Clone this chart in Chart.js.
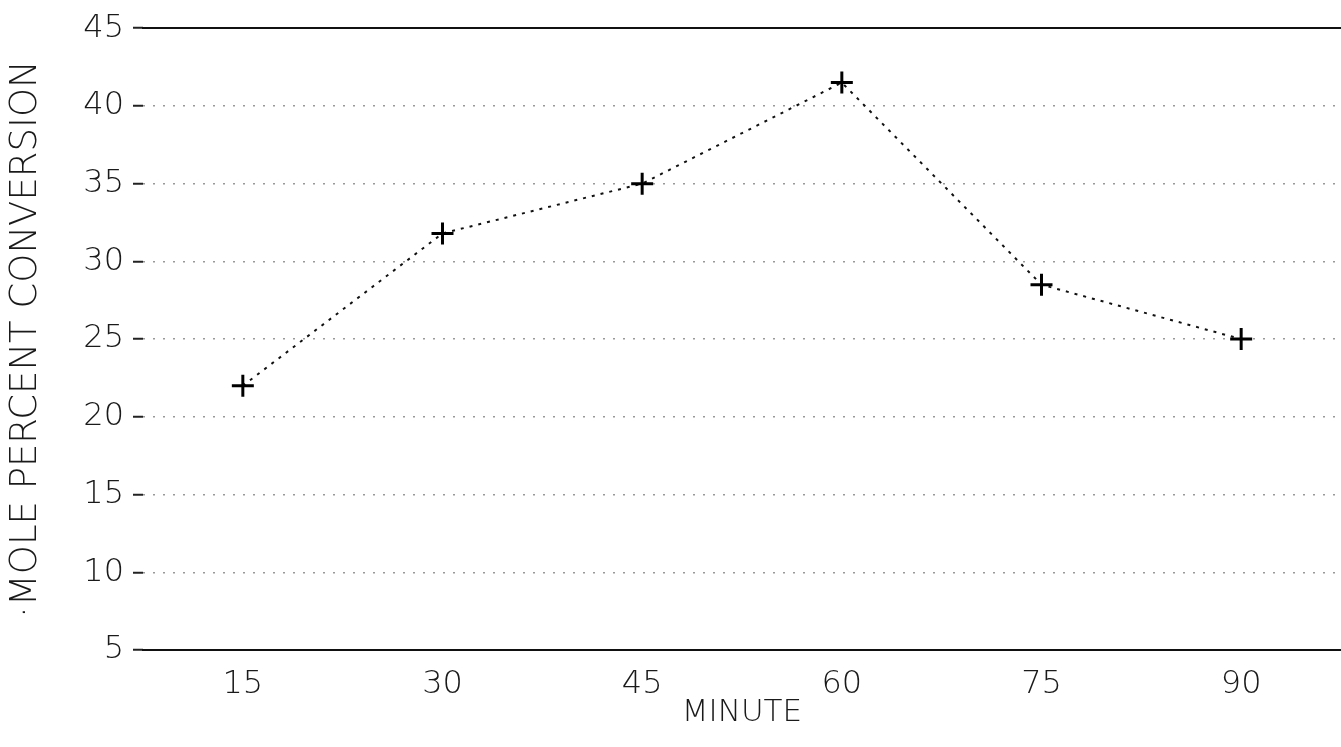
<!DOCTYPE html>
<html>
<head>
<meta charset="utf-8">
<script src="https://cdn.jsdelivr.net/npm/chart.js@4/dist/chart.umd.min.js"></script>
<style>
html,body{margin:0;padding:0;background:#fff;}
#wrap{width:1341px;height:747px;}
</style>
</head>
<body>
<div id="wrap"><canvas id="c" width="1341" height="747"></canvas></div>
<script>
const minutes = [15, 30, 45, 60, 75, 90];
const conversion = [22, 31.8, 35, 41.5, 28.5, 25];
const yTicks = [5, 10, 15, 20, 25, 30, 35, 40, 45];
const xTitle = 'MINUTE';
const yTitle = '·MOLE PERCENT CONVERSION';

const FONT = '"DejaVu Sans", "Liberation Sans", sans-serif';

const points = minutes.map((m, i) => ({x: m, y: conversion[i]}));

new Chart(document.getElementById('c'), {
  type: 'line',
  data: {
    datasets: [{
      data: points,
      borderColor: '#111',
      borderWidth: 2,
      borderDash: [3, 6],
      pointStyle: 'cross',
      pointRadius: 11,
      pointBorderWidth: 3,
      pointBorderColor: '#000',
      pointBackgroundColor: '#000',
      tension: 0,
      fill: false
    }]
  },
  options: {
    responsive: false,
    animation: false,
    devicePixelRatio: 1,
    layout: {autoPadding: false, padding: {top: 28, right: 0, left: 0, bottom: 0}},
    plugins: {legend: {display: false}, tooltip: {enabled: false}},
    scales: {
      x: {
        type: 'linear',
        position: 'bottom',
        min: 7.5,
        max: 97.5,
        afterBuildTicks: s => { s.ticks = minutes.map(v => ({value: v})); },
        afterFit: s => { s.height = 97; },
        grid: {display: false, drawTicks: false},
        border: {display: true, color: '#111', width: 2},
        ticks: {
          color: '#1a1a1a',
          padding: 15,
          font: {family: FONT, size: 32, weight: 200}
        },
        title: {
          display: true,
          text: xTitle,
          color: '#1a1a1a',
          padding: {top: 0, bottom: 15},
          font: {family: FONT, size: 31, weight: 200}
        }
      },
      x2: {
        type: 'linear',
        position: 'top',
        min: 7.5,
        max: 97.5,
        afterFit: s => { s.height = 0; },
        grid: {display: false, drawTicks: false},
        border: {display: true, color: '#111', width: 2},
        ticks: {display: false}
      },
      y: {
        type: 'linear',
        min: 5,
        max: 45,
        afterBuildTicks: s => { s.ticks = yTicks.map(v => ({value: v})); },
        afterFit: s => { s.width = 143; },
        border: {display: false, dash: [2, 8]},
        grid: {
          color: c => (c.tick && (c.tick.value === 5 || c.tick.value === 45)) ? 'rgba(0,0,0,0)' : '#999',
          lineWidth: 1.5,
          tickColor: '#222',
          tickLength: 10,
          tickWidth: 2
        },
        ticks: {
          color: '#1a1a1a',
          padding: 9,
          font: {family: FONT, size: 32, weight: 200}
        },
        title: {
          display: true,
          text: yTitle,
          color: '#1a1a1a',
          padding: {top: 4, bottom: 0},
          font: {family: FONT, size: 37, weight: 200}
        }
      }
    }
  }
});
</script>
</body>
</html>
